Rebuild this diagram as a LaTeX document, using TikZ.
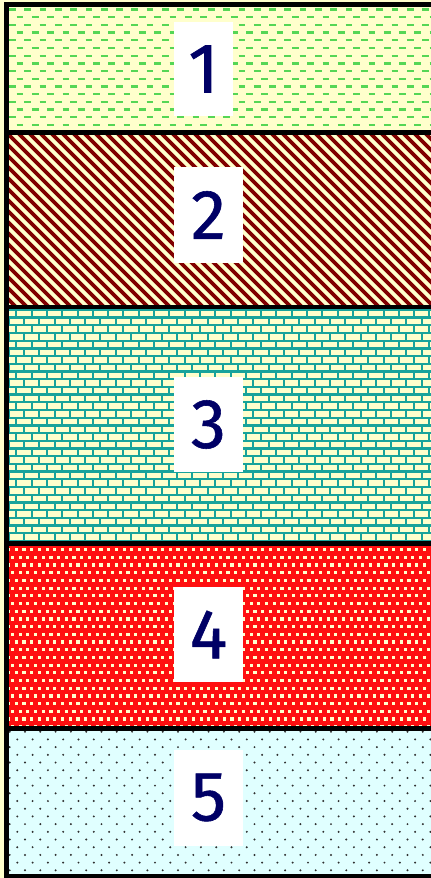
\documentclass[tikz,border=0pt]{standalone}
\usepackage{fontspec}
\setmainfont{Fira Sans}
\newfontfamily\digitfont{Fira Sans}[FakeBold=0.8]
\definecolor{bandcream}{HTML}{FFFFCC}
\definecolor{dashgreen}{HTML}{55D655}
\definecolor{stripered}{HTML}{800000}
\definecolor{brickteal}{HTML}{18A39B}
\definecolor{ballred}{HTML}{FF1010}
\definecolor{dotcyan}{HTML}{E0FFFF}
\definecolor{dotgray}{HTML}{303030}
\definecolor{digitnavy}{HTML}{000066}
\tikzset{
  border/.style    = {line width=0.1cm, black},
  numbox/.style    = {rectangle, fill=white, inner sep=0pt,
                      minimum width=1.38cm, minimum height=1.92cm,
                      font=\digitfont\fontsize{40}{42}\selectfont\color{digitnavy}},
  greendash/.style = {dashgreen, line width=0.045cm},
  redstripe/.style = {stripered, line width=0.075cm},
}

\begin{document}
\begin{tikzpicture}[x=0.02cm, y=-0.02cm]
\useasboundingbox (0,0) rectangle (431,878);
\fill[bandcream] (0,0) rectangle (431,878);

% Band 1: rows of green dashes
\begin{scope}
\clip (6,5) rectangle (431,133);
\foreach \r in {0,...,16} {
  \pgfmathsetmacro{\yy}{9.5+7.7*\r}
  \pgfmathsetmacro{\off}{mod(\r,2)*7.6}
  \foreach \c in {0,...,28}
    \draw[greendash] ({9+\off+15.3*\c},\yy) -- ++(6.7,0);
}
\end{scope}

% Band 2: dark red diagonal stripes
\begin{scope}
\clip (6,133) rectangle (431,307);
\foreach \k in {-180,-169,...,431}
  \draw[redstripe] (\k,133) -- ++(180,180);
\end{scope}

% Band 3: teal bricks
\begin{scope}
\clip (6,307) rectangle (431,544);
\fill[brickteal] (6,307) rectangle (431,544);
\foreach \r in {0,...,30} {
  \pgfmathsetmacro{\yy}{311+7.7*\r}
  \pgfmathsetmacro{\off}{mod(\r,2)*7.65}
  \foreach \c in {0,...,28}
    \fill[bandcream] ({2+\off+15.3*\c},\yy) rectangle ++(13.3,5.4);
}
\end{scope}

% Band 4: red balls on cream checks
\begin{scope}
\clip (6,544) rectangle (431,729);
\fill[ballred] (6,544) rectangle (431,729);
\foreach \r in {0,...,24} {
  \pgfmathsetmacro{\yy}{548+7.7*\r}
  \pgfmathsetmacro{\off}{mod(\r,2)*3.85}
  \foreach \c in {0,...,56}
    \fill[bandcream] ({7+\off+7.7*\c},\yy) rectangle ++(3.2,3.2);
}
\end{scope}

% Band 5: grey dots on pale cyan
\begin{scope}
\clip (6,729) rectangle (431,875);
\fill[dotcyan] (6,729) rectangle (431,875);
\foreach \r in {0,...,19} {
  \pgfmathsetmacro{\yy}{731.7+7.7*\r}
  \pgfmathsetmacro{\off}{mod(\r+1,2)*7.7}
  \foreach \c in {0,...,28}
    \fill[dotgray] ({2+\off+15.3*\c},\yy) circle (1.1);
}
\end{scope}

% Frame and band separators
\draw[border] (431,5) -- (6.5,5) -- (6.5,876) -- (431,876);
\foreach \yy in {132.5,307,543.5,728.5}
  \draw[border] (6.5,\yy) -- (431,\yy);

% Number labels
\node[numbox, minimum width=1.18cm, minimum height=1.88cm] (lab1) at (203.5,69) {1};
\node[numbox] (lab2) at (208.5,215)   {2};
\node[numbox] (lab3) at (208.5,424.5) {3};
\node[numbox] (lab4) at (208.5,634.5) {4};
\node[numbox] (lab5) at (208.5,797.5) {5};
\end{tikzpicture}
\end{document}
